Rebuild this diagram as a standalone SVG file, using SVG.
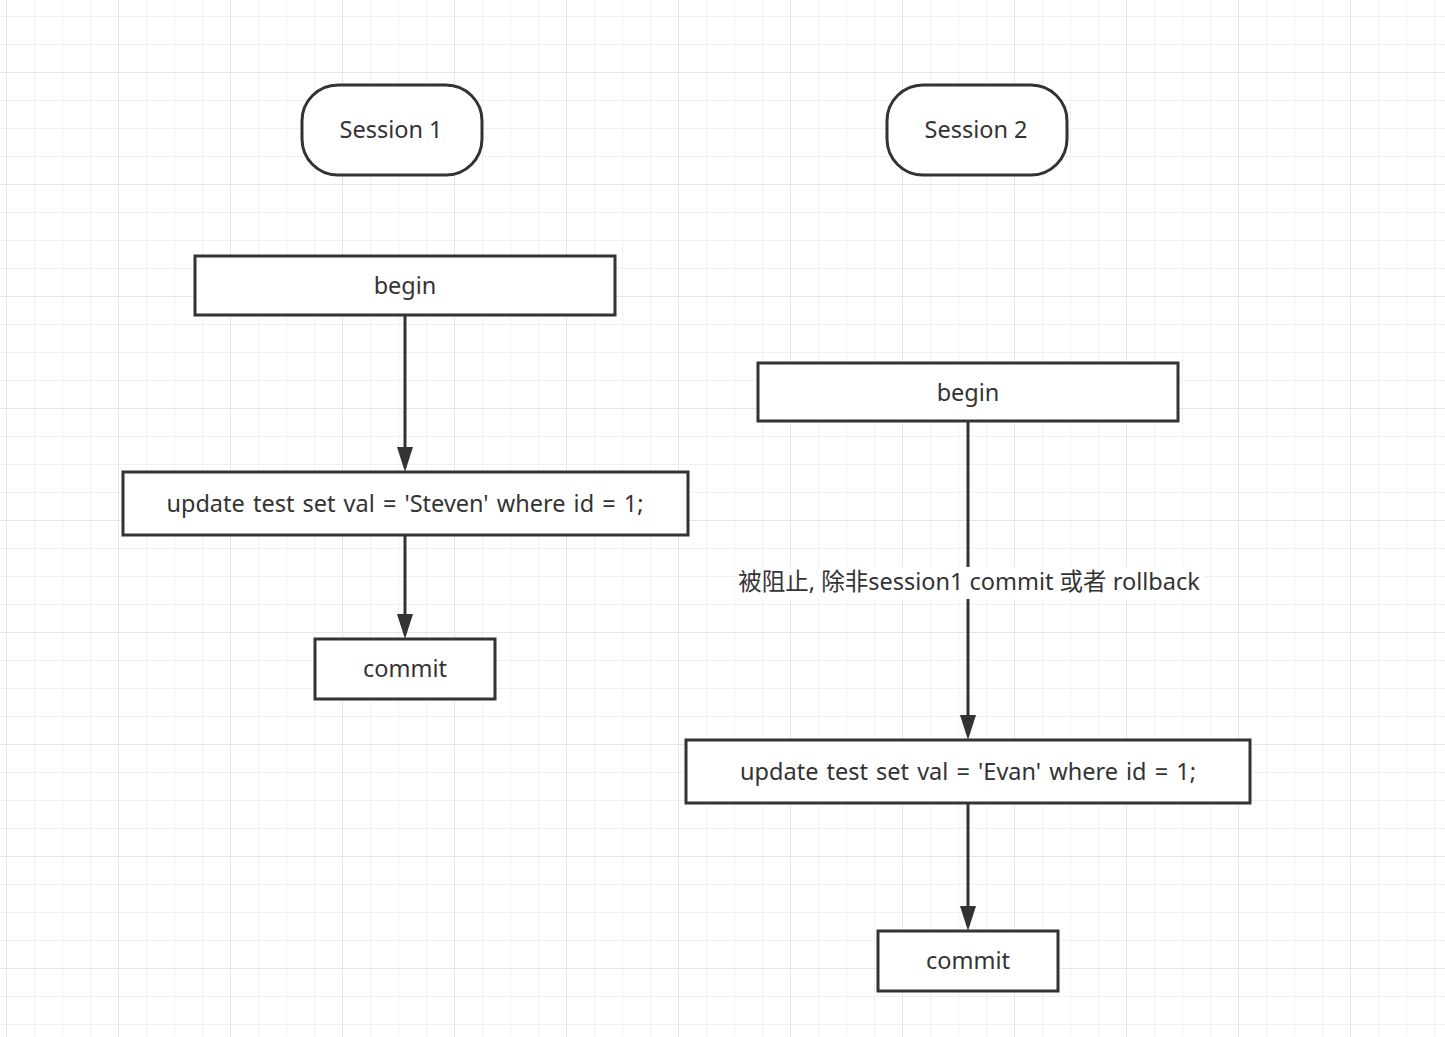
<svg xmlns="http://www.w3.org/2000/svg" width="1445" height="1037" viewBox="0 0 1445 1037">
<defs>
<pattern id="minor" x="6" y="16" width="28" height="28" patternUnits="userSpaceOnUse">
<path d="M0 0H28M0 0V28" fill="none" stroke="#f1f1f1" stroke-width="2"/>
</pattern>
<pattern id="major" x="6" y="72" width="112" height="112" patternUnits="userSpaceOnUse">
<path d="M0 0H112M0 0V112" fill="none" stroke="#e6e6e6" stroke-width="2"/>
</pattern>
<path id="ah" d="M-8 0H8L0 25Z" fill="#333"/>
</defs>
<style>
.n{fill:#fff;stroke:#333;stroke-width:3}
.t{font-family:"Noto Sans","Noto Sans CJK SC",sans-serif;font-size:23.5px;fill:#333;text-anchor:middle;dominant-baseline:central}
.w{word-spacing:2px}
.c{fill:none;stroke:#333;stroke-width:3}
</style>
<rect width="1445" height="1037" fill="#fff"/>
<rect width="1445" height="1037" fill="url(#minor)"/>
<rect width="1445" height="1037" fill="url(#major)"/>
<g id="connectors">
<path class="c" d="M405 315V447"/>
<use href="#ah" x="405" y="447"/>
<path class="c" d="M405 535V614"/>
<use href="#ah" x="405" y="614"/>
<path class="c" d="M968 421V715"/>
<use href="#ah" x="968" y="715"/>
<path class="c" d="M968 803V906"/>
<use href="#ah" x="968" y="906"/>
<rect x="735" y="567" width="469" height="32" fill="#fff"/>
<text class="t" x="969" y="581">被阻止, 除非session1 commit 或者 rollback</text>
</g>
<g id="session1"><rect class="n" x="302" y="85" width="180" height="90" rx="36"/><text class="t" x="391" y="129">Session 1</text></g>
<g id="session2"><rect class="n" x="887" y="85" width="180" height="90" rx="36"/><text class="t" x="976" y="129">Session 2</text></g>
<g id="begin1"><rect class="n" x="195" y="256" width="420" height="59"/><text class="t" x="405" y="285">begin</text></g>
<g id="update1"><rect class="n" x="123" y="472" width="565" height="63"/><text class="t w" x="405" y="503">update test set val = 'Steven' where id = 1;</text></g>
<g id="commit1"><rect class="n" x="315" y="639" width="180" height="60"/><text class="t" x="405" y="668">commit</text></g>
<g id="begin2"><rect class="n" x="758" y="363" width="420" height="58"/><text class="t" x="968" y="392">begin</text></g>
<g id="update2"><rect class="n" x="686" y="740" width="564" height="63"/><text class="t w" x="968" y="771">update test set val = 'Evan' where id = 1;</text></g>
<g id="commit2"><rect class="n" x="878" y="931" width="180" height="60"/><text class="t" x="968" y="960">commit</text></g>
</svg>
